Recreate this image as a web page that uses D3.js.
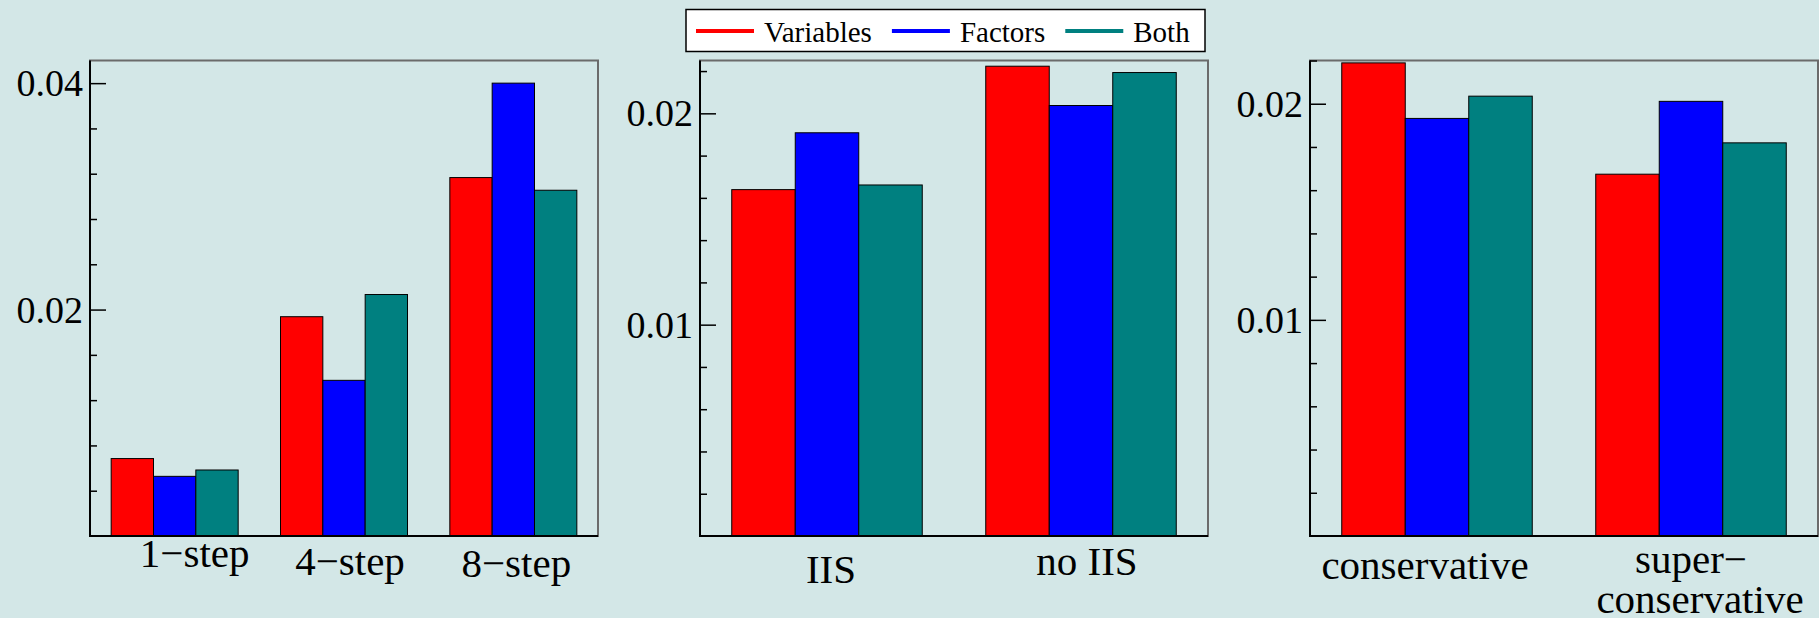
<!DOCTYPE html>
<html>
<head>
<meta charset="utf-8">
<script src="https://cdn.jsdelivr.net/npm/d3@7/dist/d3.min.js"></script>
<style>
  html, body { margin: 0; padding: 0; background: #d3e7e7; }
  svg { display: block; font-family: "Liberation Serif", "Times New Roman", serif; }
</style>
</head>
<body>
<svg id="chart" width="1819" height="618"></svg>
<script>
// series
var seriesNames = ['Variables', 'Factors', 'Both'];
var seriesColors = ['#ff0000', '#0000ff', '#008080'];

// panel 1: forecast horizon
var horizonCats = ['1\u2212step', '4\u2212step', '8\u2212step'];
var horizonVariables = [0.00684, 0.01937, 0.03166];
var horizonFactors = [0.00527, 0.01375, 0.04000];
var horizonBoth = [0.00583, 0.02133, 0.03054];
var horizonTicks = [0.02, 0.04];

// panel 2: impulse indicator saturation
var iisCats = ['IIS', 'no IIS'];
var iisVariables = [0.01639, 0.02223];
var iisFactors = [0.01908, 0.02037];
var iisBoth = [0.01661, 0.02193];
var iisTicks = [0.01, 0.02];

// panel 3: selection strategy
var strategyCats = ['conservative', 'super\u2212\nconservative'];
var strategyVariables = [0.02189, 0.01674];
var strategyFactors = [0.01932, 0.02011];
var strategyBoth = [0.02035, 0.01819];
var strategyTicks = [0.01, 0.02];

var svg = d3.select('#chart');

var panels = [
  { cats: horizonCats, vals: [horizonVariables, horizonFactors, horizonBoth], ticks: horizonTicks,
    x0: 90, x1: 598, yMax: 0.042, minorStep: 0.004,
    nudge: [[20, 567], [6, 575], [3, 577]] },
  { cats: iisCats, vals: [iisVariables, iisFactors, iisBoth], ticks: iisTicks,
    x0: 700, x1: 1208, yMax: 0.0225, minorStep: 0.002,
    nudge: [[4, 583], [6, 575]] },
  { cats: strategyCats, vals: [strategyVariables, strategyFactors, strategyBoth], ticks: strategyTicks,
    x0: 1310, x1: 1818, yMax: 0.022, minorStep: 0.002,
    nudge: [[-12, 579], [0, 573]] }
];

var plotTop = 60.5, plotBottom = 536;

panels.forEach(function(p) {
  var x = d3.scaleBand().domain(p.cats).range([p.x0, p.x1]).paddingInner(0.25).paddingOuter(0.125);
  var xs = d3.scaleBand().domain(seriesNames).range([0, x.bandwidth()]);
  var y = d3.scaleLinear().domain([0, p.yMax]).range([plotBottom, plotTop]);

  var g = svg.append('g');

  // bars
  p.cats.forEach(function(c, ci) {
    seriesNames.forEach(function(s, si) {
      var v = p.vals[si][ci];
      g.append('rect')
        .attr('x', x(c) + xs(s))
        .attr('y', y(v))
        .attr('width', xs.bandwidth())
        .attr('height', y(0) - y(v))
        .attr('fill', seriesColors[si])
        .attr('stroke', '#000')
        .attr('stroke-width', 1);
    });
  });

  // frame: top/right grey, left/bottom black
  g.append('rect')
    .attr('x', p.x0).attr('y', plotTop)
    .attr('width', p.x1 - p.x0).attr('height', plotBottom - plotTop)
    .attr('fill', 'none').attr('stroke', '#6b6b6b').attr('stroke-width', 2);
  g.append('path')
    .attr('d', 'M' + p.x0 + ',' + plotTop + 'V' + plotBottom + 'H' + p.x1)
    .attr('fill', 'none').attr('stroke', '#000').attr('stroke-width', 2);

  // minor ticks
  var minor = d3.range(p.minorStep, p.yMax + 1e-9, p.minorStep)
    .filter(function(t) { return p.ticks.every(function(m) { return Math.abs(m - t) > 1e-9; }); });
  var minorAxis = g.append('g')
    .attr('transform', 'translate(' + p.x0 + ',0)')
    .call(d3.axisLeft(y).tickValues(minor).tickSize(-7).tickFormat(''));
  minorAxis.select('.domain').remove();
  minorAxis.selectAll('line').attr('stroke', '#000').attr('stroke-width', 1.5);

  // major ticks + labels
  var majorAxis = g.append('g')
    .attr('transform', 'translate(' + p.x0 + ',0)')
    .call(d3.axisLeft(y).tickValues(p.ticks).tickSize(-16).tickPadding(7).tickFormat(d3.format('.2f')));
  majorAxis.select('.domain').remove();
  majorAxis.selectAll('line').attr('stroke', '#000').attr('stroke-width', 1.5);
  majorAxis.selectAll('text')
    .attr('font-family', '"Liberation Serif", "Times New Roman", serif')
    .attr('font-size', 38).attr('fill', '#000').attr('dy', '0.33em');

  // category labels
  p.cats.forEach(function(c, ci) {
    var lines = c.split('\n');
    var cx = x(c) + x.bandwidth() / 2 + p.nudge[ci][0];
    var t = g.append('text')
      .attr('y', p.nudge[ci][1])
      .attr('text-anchor', 'middle')
      .attr('font-size', 41)
      .attr('fill', '#000');
    lines.forEach(function(l, li) {
      t.append('tspan')
        .attr('x', cx + (li > 0 ? 9 : 0))
        .attr('dy', li === 0 ? 0 : 40)
        .text(l);
    });
  });
});

// legend
var legend = svg.append('g');
legend.append('rect')
  .attr('x', 686).attr('y', 9.5).attr('width', 519).attr('height', 42)
  .attr('fill', '#fff').attr('stroke', '#000').attr('stroke-width', 1.5);
var lx = 696;
seriesNames.forEach(function(s, i) {
  legend.append('line')
    .attr('x1', lx).attr('x2', lx + 58)
    .attr('y1', 31).attr('y2', 31)
    .attr('stroke', seriesColors[i]).attr('stroke-width', 4);
  var t = legend.append('text')
    .attr('x', lx + 68).attr('y', 42)
    .attr('font-size', 29).attr('fill', '#000')
    .text(s);
  lx = lx + 68 + t.node().getComputedTextLength() + 20;
});
</script>
</body>
</html>
